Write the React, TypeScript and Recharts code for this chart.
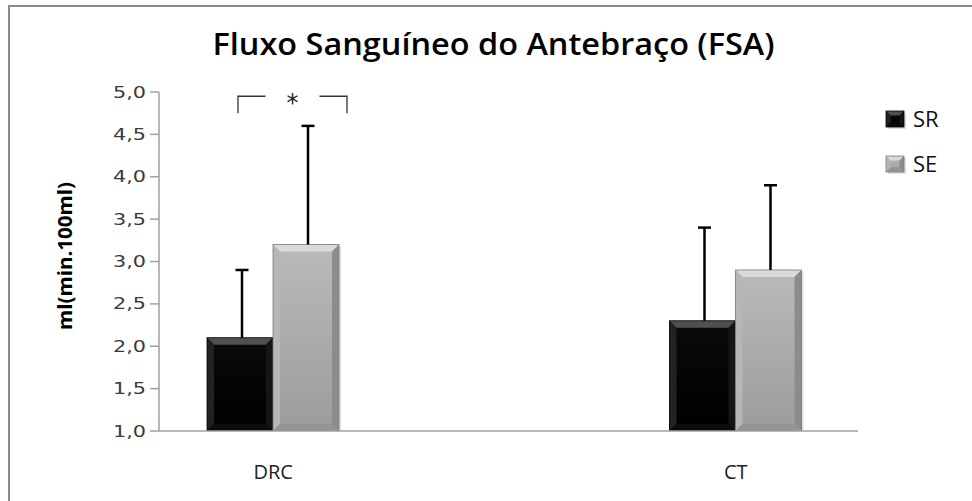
import React from "react";
import { BarChart, Bar, XAxis, YAxis, LabelList } from "recharts";

const groups = ["DRC", "CT"];
const srMeans = [2.1, 2.3];
const srErrors = [0.8, 1.1];
const seMeans = [3.2, 2.9];
const seErrors = [1.4, 1.0];
const yTicks = [1.0, 1.5, 2.0, 2.5, 3.0, 3.5, 4.0, 4.5, 5.0];
const seriesNames = ["SR", "SE"];
const sigLevel = 4.95;
const sigText = "*";

const data = groups.map((g, i) => ({
  group: g,
  sr: srMeans[i],
  srErr: srErrors[i],
  se: seMeans[i],
  seErr: seErrors[i],
}));

const palettes = {
  sr: { id: "sr", faceTop: "#0a0a0a", faceBottom: "#000", top: "#505050", left: "#222", right: "#151515", bottom: "#0c0c0c", edge: "#000" },
  se: { id: "se", faceTop: "#bababa", faceBottom: "#9c9c9c", top: "#dadada", left: "#b6b6b6", right: "#8c8c8c", bottom: "#949494", edge: "#7a7a7a" },
};

function BevelBar(props: any) {
  const { x, y, width, height, pal } = props;
  if (!height || height <= 0) return null;
  const b = Math.min(7, width / 4, height / 2);
  const r = x + width;
  const btm = y + height;
  return (
    <g>
      <rect x={x + 2} y={y + 2} width={width} height={height} fill="#000" opacity={0.12} />
      <rect x={x} y={y} width={width} height={height} fill={`url(#face-${pal.id})`} />
      <polygon points={`${x},${y} ${r},${y} ${r - b},${y + b} ${x + b},${y + b}`} fill={pal.top} />
      <polygon points={`${x},${y} ${x + b},${y + b} ${x + b},${btm - b} ${x},${btm}`} fill={pal.left} />
      <polygon points={`${r},${y} ${r},${btm} ${r - b},${btm - b} ${r - b},${y + b}`} fill={pal.right} />
      <polygon points={`${x},${btm} ${x + b},${btm - b} ${r - b},${btm - b} ${r},${btm}`} fill={pal.bottom} />
      <rect x={x} y={y} width={width} height={height} fill="none" stroke={pal.edge} strokeWidth={0.8} />
    </g>
  );
}

function FaceGradients() {
  return (
    <defs>
      {[palettes.sr, palettes.se].map((p) => (
        <linearGradient key={p.id} id={`face-${p.id}`} x1="0" y1="0" x2="0" y2="1">
          <stop offset="0%" stopColor={p.faceTop} />
          <stop offset="100%" stopColor={p.faceBottom} />
        </linearGradient>
      ))}
    </defs>
  );
}

// upper whisker only, stacked on top of the mean bar
function Whisker(props: any) {
  const { x, y, width, height } = props;
  if (!height || height <= 0) return null;
  const cx = x + width / 2 + 2;
  return (
    <g stroke="#000" strokeWidth={2.5}>
      <line x1={cx} y1={y + height} x2={cx} y2={y} />
      <line x1={cx - 6.5} y1={y} x2={cx + 6.5} y2={y} />
    </g>
  );
}

function YTick(props: any) {
  const { x, y, payload } = props;
  const label = payload.value.toFixed(1).replace(".", ",");
  return (
    <text
      x={x - 2}
      y={y}
      dy={5.5}
      textAnchor="end"
      fontFamily="DejaVu Sans"
      fontSize={15}
      fill="#3a3a3a"
      textLength={33}
      lengthAdjust="spacingAndGlyphs"
    >
      {label}
    </text>
  );
}

function XTick(props: any) {
  const { x, y, payload } = props;
  return (
    <text x={x} y={y} dy={40} textAnchor="middle" fontFamily="Open Sans" fontSize={20} fill="#222">
      {payload.value}
    </text>
  );
}

// significance bracket over the first group, placed from the SE bar geometry
function SigBracket(props: any) {
  const { x, y, width, height, index } = props;
  if (index !== 0) return null;
  const pxPerUnit = height / (seMeans[0] - yTicks[0]);
  const top = y - (sigLevel - seMeans[0]) * pxPerUnit;
  const left = x - width / 2 - 2;
  const right = x + width + 8;
  const mid = (left + right) / 2;
  const legs = 17;
  return (
    <g stroke="#333" strokeWidth={1.3} fill="none">
      <polyline points={`${left},${top + legs} ${left},${top} ${mid - 27},${top}`} />
      <polyline points={`${mid + 27},${top} ${right},${top} ${right},${top + legs}`} />
      <text x={mid} y={top + 15} textAnchor="middle" fontFamily="DejaVu Sans" fontSize={24} fill="#222" stroke="none">
        {sigText}
      </text>
    </g>
  );
}

export default function App() {
  return (
    <div style={{ position: "absolute", left: 0, top: 0, width: 972, height: 501, background: "#fff", overflow: "hidden" }}>
      <div
        style={{
          position: "absolute",
          left: 8,
          top: 5,
          width: 980,
          height: 520,
          borderTop: "2px solid #8a8a8a",
          borderLeft: "2px solid #8a8a8a",
        }}
      />
      <div style={{ position: "absolute", left: 0, top: 0 }}>
        <BarChart
          width={972}
          height={501}
          data={data}
          margin={{ top: 92, right: 114, bottom: 30, left: 99 }}
          barGap={0}
          barSize={66}
        >
          <FaceGradients />
          <XAxis
            dataKey="group"
            axisLine={{ stroke: "#a0a0a0", strokeWidth: 1.5 }}
            tickLine={false}
            tick={<XTick />}
            height={40}
            padding={{ left: -117, right: -109 }}
          />
          <YAxis
            type="number"
            domain={[1, 5]}
            ticks={yTicks}
            interval={0}
            width={60}
            axisLine={{ stroke: "#a0a0a0", strokeWidth: 1.5 }}
            tickLine={{ stroke: "#a0a0a0", strokeWidth: 1.5 }}
            tickSize={9}
            tick={<YTick />}
            allowDataOverflow
          />
          <Bar dataKey="sr" stackId="sr" isAnimationActive={false} shape={(p: any) => <BevelBar {...p} pal={palettes.sr} />} />
          <Bar dataKey="srErr" stackId="sr" isAnimationActive={false} shape={<Whisker />} />
          <Bar dataKey="se" stackId="se" isAnimationActive={false} shape={(p: any) => <BevelBar {...p} pal={palettes.se} />}>
            <LabelList dataKey="se" content={<SigBracket />} />
          </Bar>
          <Bar dataKey="seErr" stackId="se" isAnimationActive={false} shape={<Whisker />} />
        </BarChart>
      </div>
      <svg style={{ position: "absolute", left: 0, top: 0 }} width={972} height={501} pointerEvents="none">
        <FaceGradients />
        <text
          x={493.5}
          y={55}
          textAnchor="middle"
          fontFamily="Open Sans"
          fontWeight={600}
          fontSize={30}
          fill="#000"
          textLength={562}
          lengthAdjust="spacingAndGlyphs"
        >
          Fluxo Sanguíneo do Antebraço (FSA)
        </text>
        <text
          transform="translate(72,256) rotate(-90)"
          textAnchor="middle"
          fontFamily="Open Sans"
          fontWeight={700}
          fontSize={20}
          fill="#000"
          textLength={148}
          lengthAdjust="spacingAndGlyphs"
        >
          ml(min.100ml)
        </text>
        {seriesNames.map((name, i) => {
          const pal = i === 0 ? palettes.sr : palettes.se;
          const cy = 119 + i * 45;
          return (
            <g key={name}>
              <BevelBar x={886} y={cy - 8} width={18} height={16} pal={pal} />
              <text x={913} y={cy + 8} fontFamily="Open Sans" fontSize={22} fill="#111">
                {name}
              </text>
            </g>
          );
        })}
      </svg>
    </div>
  );
}
